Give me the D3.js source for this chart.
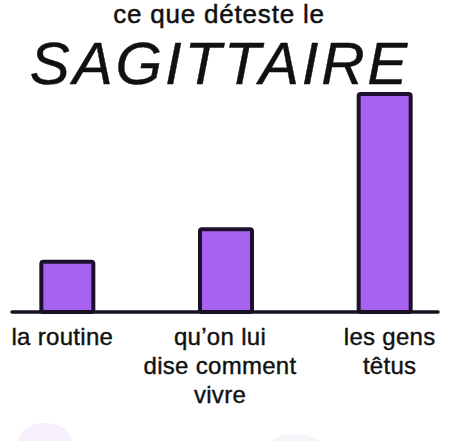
<!DOCTYPE html>
<html>
<head>
<meta charset="utf-8">
<script src="https://cdn.jsdelivr.net/npm/d3@7"></script>
<style>
  html, body { margin: 0; padding: 0; background: #fff; }
  svg { display: block; }
</style>
</head>
<body>
<div class="chart"></div>
<script>
var width = 455
  , height = 441
  ;

// data
var categories = ["la routine", "qu\u2019on lui dise comment vivre", "les gens têtus"];
var labelLines = [["la routine"], ["qu\u2019on lui", "dise comment", "vivre"], ["les gens", "têtus"]];
var values = [23, 38, 100];
var titleLine1 = "ce que déteste le";
var titleLine2 = "SAGITTAIRE";

var svg = d3.select(".chart").append("svg")
  .attr("width", width)
  .attr("height", height);

svg.append("rect")
  .attr("width", width)
  .attr("height", height)
  .attr("fill", "#fff");

// faint purple smudges at the bottom
svg.append("ellipse")
  .attr("cx", 45).attr("cy", 441).attr("rx", 26).attr("ry", 18)
  .attr("fill", "#f5f0fc");
svg.append("ellipse")
  .attr("cx", 295).attr("cy", 446).attr("rx", 26).attr("ry", 12)
  .attr("fill", "#f7f3fb");

var x = d3.scalePoint()
  .domain(categories)
  .range([-12, 464])
  .padding(0.5);

var y = d3.scaleLinear()
  .domain([0, 100])
  .range([312, 94]);

var barWidth = 52;

// titles
svg.append("text")
  .attr("x", 219)
  .attr("y", 23)
  .attr("text-anchor", "middle")
  .attr("font-family", "Liberation Sans, Arial, sans-serif")
  .attr("font-size", 26)
  .attr("letter-spacing", 0.8)
  .attr("fill", "#111")
  .attr("stroke", "#111")
  .attr("stroke-width", 0.5)
  .text(titleLine1);

svg.append("text")
  .attr("x", 220)
  .attr("y", 84)
  .attr("text-anchor", "middle")
  .attr("font-family", "Liberation Sans, Arial, sans-serif")
  .attr("font-style", "italic")
  .attr("font-size", 60)
  .attr("letter-spacing", 2.8)
  .attr("fill", "#111")
  .attr("stroke", "#111")
  .attr("stroke-width", 0.4)
  .text(titleLine2);

// bars
svg.selectAll("rect.bar")
  .data(values)
  .enter().append("rect")
    .attr("class", "bar")
    .attr("x", function(d, i) { return x(categories[i]) - barWidth / 2; })
    .attr("y", function(d) { return y(d); })
    .attr("width", barWidth)
    .attr("height", function(d) { return y(0) - y(d); })
    .attr("rx", 2)
    .attr("fill", "#a862f2")
    .attr("stroke", "#1d0f2e")
    .attr("stroke-width", 4);

// baseline
svg.append("line")
  .attr("x1", 12)
  .attr("x2", 438)
  .attr("y1", y(0))
  .attr("y2", y(0))
  .attr("stroke", "#1a1222")
  .attr("stroke-width", 3.5)
  .attr("stroke-linecap", "round");

// labels
var labels = svg.selectAll("text.label")
  .data(categories)
  .enter().append("text")
    .attr("class", "label")
    .attr("text-anchor", "middle")
    .attr("font-family", "Liberation Sans, Arial, sans-serif")
    .attr("font-size", 24)
    .attr("letter-spacing", 0.3)
    .attr("fill", "#111")
    .attr("stroke", "#111")
    .attr("stroke-width", 0.4);

labels.each(function(d, i) {
  var t = d3.select(this);
  var cx = x(d) + (i === 0 ? -5 : i === 1 ? -6 : 5);
  labelLines[i].forEach(function(line, j) {
    t.append("tspan")
      .attr("x", cx)
      .attr("y", 345 + j * 29)
      .text(line);
  });
});
</script>
</body>
</html>
